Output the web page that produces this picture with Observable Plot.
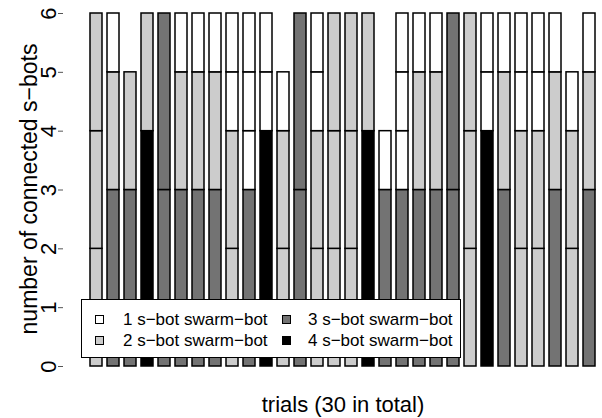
<!DOCTYPE html>
<html><head><meta charset="utf-8">
<script src="https://cdn.jsdelivr.net/npm/d3@7"></script>
<script src="https://cdn.jsdelivr.net/npm/@observablehq/plot@0.6"></script>
<style>
body{margin:0;background:#fff;}
#wrap{position:relative;width:602px;height:418px;font-family:"Liberation Sans",Arial,Helvetica,sans-serif;}
#legend{position:absolute;left:81px;top:299px;width:380px;height:59px;border:1.5px solid #000;background:#fff;box-sizing:border-box;font-size:17px;color:#000;}
.item{position:absolute;white-space:nowrap;line-height:17px;}
.sw{position:absolute;width:9px;height:9px;border:1.2px solid #000;box-sizing:border-box;}
</style></head>
<body><div id="wrap"></div>
<script>
// swarm-bot sizes formed in each trial, bottom to top
const trialIds = [1,2,3,4,5,6,7,8,9,10,11,12,13,14,15,16,17,18,19,20,21,22,23,24,25,26,27,28,29,30];
const swarmSizes = [
  [2,2,2],[3,2,1],[3,2],[4,2],[3,3],[3,2,1],[3,2,1],[3,2,1],[2,2,1,1],[3,1,1,1],
  [4,1,1],[2,2,1],[3,3],[2,2,1,1],[2,2,2],[2,2,2],[4,2],[3,1],[3,1,1,1],[3,2,1],
  [3,2,1],[3,3],[2,2,2],[4,1,1],[3,2,1],[2,2,1,1],[2,2,1,1],[3,2,1],[2,2,1],[3,2,1]
];
const sizeKeys = [1,2,3,4];
const legendLabels = ["1 s\u2212bot swarm\u2212bot","2 s\u2212bot swarm\u2212bot","3 s\u2212bot swarm\u2212bot","4 s\u2212bot swarm\u2212bot"];
const fillColors = ["#ffffff","#cccccc","#737373","#000000"];
const yTicks = [0,1,2,3,4,5,6];
const yTitle = "number of connected s\u2212bots";
const xTitle = "trials (30 in total)";

const segments = [];
trialIds.forEach((t, i) => {
  let base = 0;
  swarmSizes[i].forEach(s => {
    segments.push({trial: t, size: s, y1: base, y2: base + s});
    base += s;
  });
});

const font = '"Liberation Sans",Arial,Helvetica,sans-serif';
const W = 602, H = 418, mL = 63, mR = 0, mT = 13, mB = 52;
const chart = Plot.plot({
  width: W, height: H,
  marginTop: mT, marginBottom: mB, marginLeft: mL, marginRight: mR,
  style: {fontFamily: font, background: "#fff", color: "#000"},
  x: {type: "band", domain: trialIds, range: [82.5, 603.6], paddingInner: 0.27, paddingOuter: 0.135, axis: null},
  y: {domain: [0, 6], axis: null},
  color: {type: "ordinal", domain: sizeKeys, range: fillColors},
  marks: [
    Plot.rectY(segments, {x: "trial", y1: "y1", y2: "y2", fill: "size", stroke: "#000", strokeWidth: 1.5}),
    Plot.ruleX([0], {y1: 0, y2: 6, dx: mL - (mL + W - mR) / 2, stroke: "#555", strokeWidth: 1}),
    Plot.axisY(yTicks, {anchor: "left", tickSize: 5, stroke: "#555", tickFormat: null, text: null, label: null}),
    Plot.text(yTicks, {y: d => d, text: d => String(d), frameAnchor: "left", textAnchor: "middle", lineAnchor: "middle", rotate: -90, dx: -15, fontSize: 22, fill: "#000"}),
    Plot.text([yTitle], {frameAnchor: "left", textAnchor: "middle", lineAnchor: "middle", rotate: -90, dx: -34, dy: -1, fontSize: 23, fill: "#000"}),
    Plot.text([xTitle], {frameAnchor: "bottom", textAnchor: "middle", lineAnchor: "middle", dx: 10, dy: 38, fontSize: 22, fill: "#000"})
  ]
});
const wrap = document.getElementById("wrap");
wrap.appendChild(chart);

const lg = document.createElement("div");
lg.id = "legend";
const pos = [[0,0],[0,1],[1,0],[1,1]]; // [col,row]
const colX = [13, 200], textX = [41, 226], rowY = [19, 40];
sizeKeys.forEach((k, i) => {
  const [c, r] = pos[i];
  const sw = document.createElement("div");
  sw.className = "sw";
  sw.style.left = colX[c] + "px";
  sw.style.top = (rowY[r] - 4.5) + "px";
  sw.style.background = fillColors[i];
  lg.appendChild(sw);
  const tx = document.createElement("div");
  tx.className = "item";
  tx.style.left = textX[c] + "px";
  tx.style.top = (rowY[r] - 8.5) + "px";
  tx.textContent = legendLabels[i];
  lg.appendChild(tx);
});
wrap.appendChild(lg);
</script></body></html>
